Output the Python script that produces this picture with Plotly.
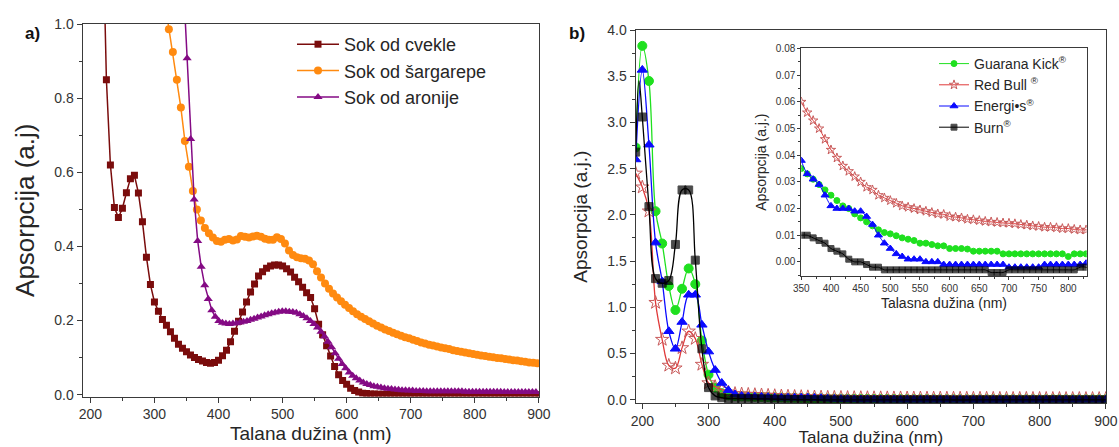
import numpy as np
import plotly.graph_objects as go

W, H = 1119, 447
FONT = "Liberation Sans, Arial, sans-serif"
AXIS_COLOR = "#3a3a3a"
TEXT_COLOR = "#262626"

# ---------------- panel a) juice absorption spectra ----------------
cvekle_nm = np.arange(218.75, 900.01, 6.25)
cvekle_abs = [
    1.32, 0.85, 0.62, 0.505, 0.478, 0.503, 0.545, 0.583, 0.592, 0.544,
    0.467, 0.371, 0.297, 0.250, 0.225, 0.203, 0.187, 0.170, 0.152, 0.136,
    0.125, 0.116, 0.107, 0.100, 0.095, 0.091, 0.087, 0.085, 0.087, 0.093,
    0.105, 0.120, 0.143, 0.171, 0.198, 0.223, 0.250, 0.277, 0.299, 0.320,
    0.332, 0.341, 0.347, 0.350, 0.350, 0.347, 0.340, 0.331, 0.317, 0.305,
    0.290, 0.275, 0.262, 0.232, 0.190, 0.162, 0.132, 0.104, 0.076, 0.054,
    0.038, 0.028, 0.017, 0.011, 0.007, 0.004, 0.003, 0.002, 0.002, 0.001,
    0.001, 0.001, 0.001, 0.001, 0.001, 0.001, 0.001, 0.001, 0.001, 0.001,
    0.001, 0.001, 0.001, 0.001, 0.001, 0.0, 0.0, 0.0, 0.0, 0.0,
    0.0, 0.0, 0.0, 0.0, 0.0, 0.0, 0.0, 0.0, 0.0, 0.0,
    0.0, 0.0, 0.0, 0.0, 0.0, 0.0, 0.0, 0.0, 0.0, 0.0,
]

sargarepa_nm = np.arange(316.25, 897.51, 6.25)
sargarepa_abs = [
    1.06, 0.986, 0.925, 0.850, 0.775, 0.685, 0.615, 0.550, 0.500, 0.470,
    0.450, 0.436, 0.424, 0.415, 0.413, 0.418, 0.420, 0.416, 0.419, 0.428,
    0.426, 0.424, 0.427, 0.429, 0.426, 0.421, 0.418, 0.418, 0.425, 0.420,
    0.408, 0.389, 0.377, 0.371, 0.368, 0.367, 0.362, 0.352, 0.333, 0.316,
    0.300, 0.286, 0.273, 0.262, 0.252, 0.243, 0.234, 0.225, 0.217, 0.210,
    0.204, 0.198, 0.192, 0.186, 0.181, 0.176, 0.172, 0.167, 0.163, 0.159,
    0.155, 0.152, 0.148, 0.145, 0.141, 0.138, 0.135, 0.133, 0.130, 0.127,
    0.125, 0.123, 0.120, 0.118, 0.116, 0.114, 0.112, 0.110, 0.108, 0.106,
    0.104, 0.102, 0.101, 0.099, 0.098, 0.096, 0.095, 0.093, 0.092, 0.090,
    0.089, 0.087, 0.086, 0.085,
]

aronija_nm = np.arange(345.5, 895.51, 5.5)
aronija_abs = [
    1.10, 0.908, 0.690, 0.527, 0.415, 0.345, 0.295, 0.258, 0.228, 0.210,
    0.199, 0.194, 0.192, 0.191, 0.192, 0.193, 0.195, 0.197, 0.199, 0.202,
    0.205, 0.208, 0.211, 0.214, 0.217, 0.220, 0.222, 0.224, 0.225, 0.225,
    0.224, 0.223, 0.221, 0.217, 0.212, 0.206, 0.199, 0.191, 0.181, 0.170,
    0.157, 0.143, 0.128, 0.112, 0.097, 0.083, 0.071, 0.060, 0.051, 0.044,
    0.038, 0.033, 0.029, 0.026, 0.023, 0.021, 0.019, 0.017, 0.016, 0.015,
    0.014, 0.013, 0.012, 0.012, 0.011, 0.011, 0.010, 0.010, 0.010, 0.009,
    0.009, 0.009, 0.009, 0.009, 0.009, 0.009, 0.009, 0.009, 0.009, 0.009,
    0.008, 0.008, 0.008, 0.008, 0.008, 0.008, 0.008, 0.008, 0.008, 0.008,
    0.008, 0.007, 0.007, 0.007, 0.007, 0.007, 0.007, 0.007, 0.007, 0.007,
    0.007,
]

juice_names = ["Sok od cvekle", "Sok od šargarepe", "Sok od aronije"]

# ---------------- panel b) energy drink spectra ----------------
drink_nm = list(range(190, 901, 10))
guarana_abs = [
    2.73, 3.83, 3.45, 2.04, 1.69, 1.23, 0.97, 1.20, 1.42, 1.25,
    0.64, 0.27, 0.13, 0.07, 0.045, 0.038, 0.035, 0.033, 0.031, 0.029,
    0.027, 0.025, 0.023, 0.021, 0.020, 0.018, 0.0165, 0.015, 0.0135, 0.012,
    0.011, 0.0105, 0.0098, 0.009, 0.0085, 0.008, 0.007, 0.007, 0.0065, 0.006,
    0.006, 0.005, 0.005, 0.005, 0.0048, 0.004, 0.004, 0.004, 0.004, 0.004,
    0.003, 0.003, 0.003, 0.003, 0.003, 0.003, 0.003, 0.003, 0.003, 0.003,
    0.003, 0.002, 0.003, 0.003, 0.003, 0.003, 0.003, 0.003, 0.003, 0.003,
    0.003, 0.003,
]
redbull_abs = [
    2.45, 2.30, 2.04, 1.05, 0.65, 0.37, 0.34, 0.56, 0.74, 0.66,
    0.38, 0.18, 0.14, 0.11, 0.08, 0.065, 0.060, 0.056, 0.053, 0.050,
    0.046, 0.042, 0.039, 0.036, 0.034, 0.032, 0.030, 0.028, 0.027, 0.025,
    0.024, 0.023, 0.022, 0.021, 0.0205, 0.020, 0.0195, 0.019, 0.0185, 0.018,
    0.0178, 0.017, 0.0168, 0.0165, 0.016, 0.0158, 0.0155, 0.0152, 0.015, 0.0148,
    0.0146, 0.0145, 0.0143, 0.014, 0.0138, 0.0135, 0.0133, 0.013, 0.013, 0.0128,
    0.0125, 0.0125, 0.0122, 0.012, 0.012, 0.0118, 0.0117, 0.0116, 0.0115, 0.0114,
    0.0113, 0.0112,
]
energis_abs = [
    2.60, 3.57, 2.76, 1.70, 1.28, 0.74, 0.55, 0.84, 1.135, 1.135,
    0.81, 0.52, 0.32, 0.18, 0.10, 0.055, 0.038, 0.033, 0.031, 0.029,
    0.025, 0.021, 0.020, 0.020, 0.020, 0.019, 0.019, 0.017, 0.014, 0.010,
    0.007, 0.005, 0.003, 0.002, 0.001, 0.001, 0.001, 0.0, 0.0, 0.0,
    -0.001, -0.001, -0.001, -0.001, -0.001, -0.001, -0.001, -0.001, -0.001, -0.001,
    -0.001, -0.002, -0.002, -0.002, -0.002, -0.002, -0.002, -0.001, -0.001, -0.001,
    -0.001, -0.001, -0.001, -0.001, -0.0005, -0.001, -0.001, -0.001, -0.001, -0.001,
    -0.001, -0.001,
]
burn_nm = [190, 195] + list(range(200, 901, 10))
burn_abs = [
    2.68, 3.45,
    3.06, 2.09, 1.31, 1.26, 1.29, 1.68, 2.27, 2.27, 1.51, 0.55,
    0.13, 0.04, 0.02, 0.012, 0.010, 0.010, 0.010, 0.009, 0.008, 0.007,
    0.005, 0.004, 0.003, 0.001, 0.0, 0.0, -0.001, -0.002, -0.002, -0.003,
    -0.003, -0.003, -0.003, -0.003, -0.003, -0.003, -0.003, -0.003, -0.003, -0.003,
    -0.003, -0.003, -0.003, -0.003, -0.003, -0.003, -0.003, -0.004, -0.004, -0.004,
    -0.003, -0.003, -0.003, -0.003, -0.003, -0.003, -0.003, -0.003, -0.003, -0.003,
    -0.003, -0.003, -0.002, -0.002, -0.003, -0.003, -0.003, -0.003, -0.003, -0.003,
    -0.003,
]

drink_names = ["Guarana Kick<sup>®</sup>", "Red Bull <sup>®</sup>",
               "Energi•s<sup>®</sup>", "Burn<sup>®</sup>"]


def xdom(left_px, right_px):
    return [left_px / W, right_px / W]


def ydom(top_px, bottom_px):
    return [1 - bottom_px / H, 1 - top_px / H]


fig = go.Figure()

# panel a traces
juice_specs = [
    (cvekle_nm, cvekle_abs, "#7a0c0c", "square", 7),
    (sargarepa_nm, sargarepa_abs, "#ff8a10", "circle", 8),
    (aronija_nm, aronija_abs, "#840a84", "triangle-up", 8),
]
for (nm, ab, col, sym, size), name in zip(juice_specs, juice_names):
    fig.add_trace(go.Scatter(
        x=nm, y=ab, name=name, mode="lines+markers",
        line=dict(color=col, width=1.5),
        marker=dict(symbol=sym, size=size, color=col, line=dict(width=0)),
        xaxis="x", yaxis="y", legend="legend",
    ))

# panel b traces (main view and inset share the same data)
burn_sizes_main = [0 if w % 10 else 8 for w in burn_nm]
burn_sizes_inset = [0 if w % 10 else 6 for w in burn_nm]
drink_specs = [
    (drink_nm, guarana_abs, "#1fe01f", "#1fe01f", "circle", 9, 6),
    (drink_nm, redbull_abs, "#e03a3a", "#c85a5a", "star-open", 10, 7),
    (drink_nm, energis_abs, "#0a0aff", "#0a0aff", "triangle-up", 9, 7),
    (burn_nm, burn_abs, "#000000", "#000000", "square", burn_sizes_main, burn_sizes_inset),
]
for (nm, ab, lcol, mcol, sym, s_main, s_inset), name in zip(drink_specs, drink_names):
    fig.add_trace(go.Scatter(
        x=nm, y=ab, name=name, mode="lines+markers", showlegend=False,
        line=dict(color=lcol, width=1.3, shape="spline", smoothing=1),
        marker=dict(symbol=sym, size=s_main, color=mcol, line=dict(width=1, color=mcol)),
        xaxis="x2", yaxis="y2",
    ))
for (nm, ab, lcol, mcol, sym, s_main, s_inset), name in zip(drink_specs, drink_names):
    fig.add_trace(go.Scatter(
        x=nm, y=ab, name=name, mode="lines+markers", showlegend=True,
        line=dict(color=lcol, width=1, shape="spline", smoothing=0.6),
        marker=dict(symbol=sym, size=s_inset, color=mcol, line=dict(width=1, color=mcol)),
        xaxis="x3", yaxis="y3", legend="legend2",
    ))

axis_base = dict(
    showline=True, linecolor=AXIS_COLOR, linewidth=1.3, mirror=True,
    ticks="outside", ticklen=5, tickwidth=1.2, tickcolor=AXIS_COLOR,
    showgrid=False, zeroline=False, automargin=False,
    tickfont=dict(family=FONT, size=14, color="#333333"),
)
inset_base = dict(axis_base, ticklen=3, tickwidth=1, linewidth=1,
                  tickfont=dict(family=FONT, size=10, color="#333333"))


def minor(dtick, length=3):
    return dict(ticks="outside", ticklen=length, tickwidth=1,
                tickcolor=AXIS_COLOR, dtick=dtick, showgrid=False)


fig.update_layout(
    width=W, height=H,
    margin=dict(l=0, r=0, t=0, b=0, autoexpand=False),
    paper_bgcolor="white", plot_bgcolor="white",
    font=dict(family=FONT, color=TEXT_COLOR),
    xaxis=dict(axis_base, domain=xdom(82.7, 539), range=[188, 900.3],
               dtick=100, tick0=0, minor=minor(50), anchor="y",
               title=dict(text="Talana dužina (nm)", standoff=5,
                          font=dict(family=FONT, size=19, color=TEXT_COLOR))),
    yaxis=dict(axis_base, domain=ydom(24, 396.5), range=[-0.005, 1.0005],
               dtick=0.2, tick0=0, tickformat=".1f", minor=minor(0.1), anchor="x",
               title=dict(text="Apsorpcija (a.j)", standoff=12,
                          font=dict(family=FONT, size=26, color=TEXT_COLOR))),
    xaxis2=dict(axis_base, domain=xdom(635.7, 1106), range=[190, 900.3],
                dtick=100, tick0=0, minor=minor(50), anchor="y2",
                tickfont=dict(family=FONT, size=14, color="#333333"),
                title=dict(text="Talana dužina (nm)", standoff=7,
                           font=dict(family=FONT, size=17, color=TEXT_COLOR))),
    yaxis2=dict(axis_base, domain=ydom(30, 403.3), range=[-0.04, 4.002],
                dtick=0.5, tick0=0, tickformat=".1f", minor=minor(0.25), anchor="x2",
                title=dict(text="Apsorpcija (a.j.)", standoff=14,
                           font=dict(family=FONT, size=19, color=TEXT_COLOR))),
    xaxis3=dict(inset_base, domain=xdom(801.3, 1086.7), range=[350, 831],
                dtick=50, tick0=0, minor=minor(25, 2), anchor="y3",
                title=dict(text="Talasna dužina (nm)", standoff=5,
                           font=dict(family=FONT, size=14, color=TEXT_COLOR))),
    yaxis3=dict(inset_base, domain=ydom(48.3, 276), range=[-0.0053, 0.0801],
                dtick=0.01, tick0=0, tickformat=".2f", minor=minor(0.005, 2), anchor="x3",
                title=dict(text="Apsorpcija (a.j.)", standoff=5,
                           font=dict(family=FONT, size=14, color=TEXT_COLOR))),
    legend=dict(x=292 / W, y=1 - 26 / H, xanchor="left", yanchor="top",
                bgcolor="rgba(0,0,0,0)", itemwidth=42,
                font=dict(family=FONT, size=18, color=TEXT_COLOR)),
    legend2=dict(x=934 / W, y=1 - 48 / H, xanchor="left", yanchor="top",
                 bgcolor="rgba(0,0,0,0)", itemwidth=30,
                 font=dict(family=FONT, size=14, color=TEXT_COLOR)),
    annotations=[
        dict(text="<b>a)</b>", x=23 / W, y=1 - 22 / H, xref="paper", yref="paper",
             showarrow=False, font=dict(family=FONT, size=17, color="#111111")),
        dict(text="<b>b)</b>", x=577 / W, y=1 - 22 / H, xref="paper", yref="paper",
             showarrow=False, font=dict(family=FONT, size=17, color="#111111")),
    ],
)

fig.write_html("out.html")
